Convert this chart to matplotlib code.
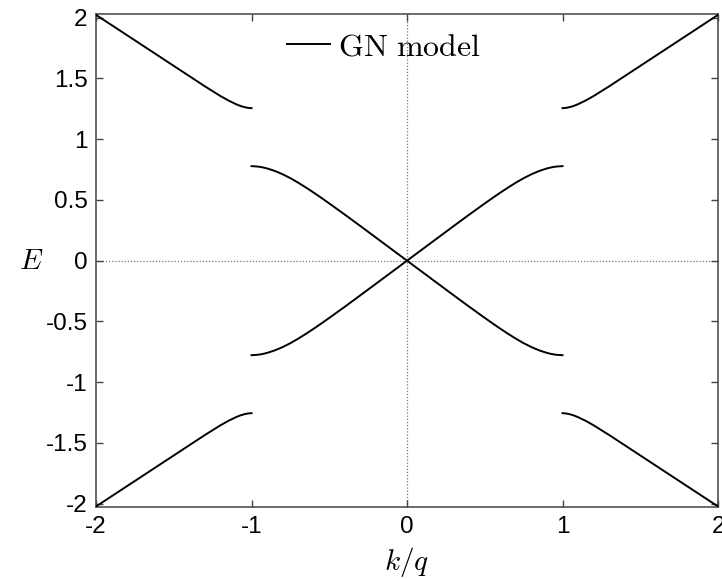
import matplotlib
matplotlib.use("Agg")
import matplotlib.pyplot as plt
import numpy as np

plt.rcParams["font.family"] = ["Liberation Sans", "DejaVu Sans"]
plt.rcParams["mathtext.fontset"] = "cm"

# Half-branch readings, k <= 0 (the other halves follow by symmetry)
k_inner = [-1.000, -0.975, -0.950, -0.925, -0.900, -0.875, -0.850, -0.825,
           -0.800, -0.750, -0.700, -0.650, -0.600, -0.550, -0.500, -0.450,
           -0.400, -0.300, -0.200, -0.100, 0.000]
E_inner = [0.778, 0.776, 0.773, 0.767, 0.759, 0.749, 0.738, 0.725,
           0.711, 0.679, 0.642, 0.602, 0.560, 0.516, 0.471, 0.425,
           0.379, 0.285, 0.190, 0.095, 0.000]

k_outer = [-2.000, -1.900, -1.800, -1.700, -1.600, -1.500, -1.400, -1.300,
           -1.200, -1.150, -1.100, -1.075, -1.050, -1.025, -1.000]
E_outer = [2.023, 1.939, 1.855, 1.771, 1.687, 1.603, 1.519, 1.435,
           1.355, 1.319, 1.288, 1.275, 1.265, 1.258, 1.255]

x_ticks = [-2, -1, 0, 1, 2]
y_ticks = [-2, -1.5, -1, -0.5, 0, 0.5, 1, 1.5, 2]
y_ticklabels = ["-2", "-1.5", "-1", "-0.5", "0", "0.5", "1", "1.5", "2"]

ki = np.array(k_inner)
Ei = np.array(E_inner)
ko = np.array(k_outer)
Eo = np.array(E_outer)

# full inner branch: odd in k, runs from (-1, +) through the origin to (1, -)
k_in_full = np.concatenate([ki, -ki[::-1][1:]])
E_in_full = np.concatenate([Ei, -Ei[::-1][1:]])

fig = plt.figure(figsize=(7.22, 5.79), dpi=100)
ax = fig.add_axes([0.133, 0.1238, 0.8615, 0.852])

ax.axhline(0, color="#777777", lw=0.9, ls=(0, (1, 1.5)), zorder=1)
ax.axvline(0, color="#777777", lw=0.9, ls=(0, (1, 1.5)), zorder=1)

line_kw = dict(color="black", lw=1.4, zorder=3)
ax.plot(k_in_full, E_in_full, label=r"$\mathrm{GN\ model}$", **line_kw)
ax.plot(k_in_full, -E_in_full, **line_kw)
for sx in (1, -1):
    for sy in (1, -1):
        ax.plot(sx * ko, sy * Eo, **line_kw)

ax.set_xlim(-2, 2)
ax.set_ylim(-2.03, 2.03)
ax.set_xticks(x_ticks)
ax.set_xticklabels([str(t) for t in x_ticks])
ax.set_yticks(y_ticks)
ax.set_yticklabels(y_ticklabels)

ax.tick_params(direction="in", length=5, width=1, color="#444444",
               top=True, right=True, labelsize=17.5, pad=6)
for s in ax.spines.values():
    s.set_color("#444444")
    s.set_linewidth(1.1)

ax.set_xlabel("$k/q$", fontsize=21)
ax.xaxis.set_label_coords(0.5, -0.076)
ax.set_ylabel("$E$", fontsize=21, rotation=0, va="center", ha="center")
ax.yaxis.set_label_coords(-0.104, 0.5)

ax.legend(loc="center left", bbox_to_anchor=(0.307, 0.933), frameon=False,
          handlelength=1.35, handletextpad=0.25, borderpad=0, borderaxespad=0,
          fontsize=23)

fig.savefig("out.png", dpi=100)
